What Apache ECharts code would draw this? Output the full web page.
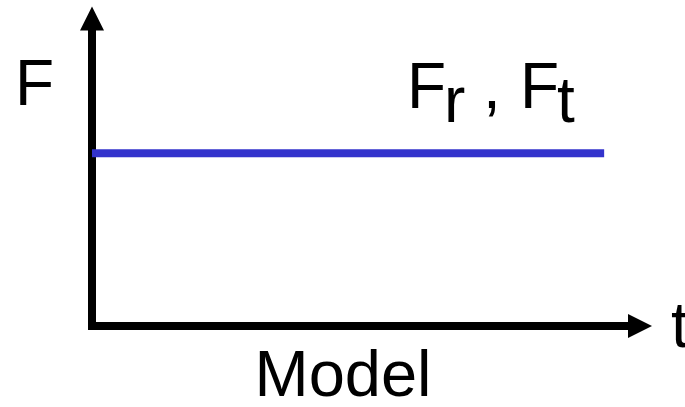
<!DOCTYPE html>
<html>
<head>
<meta charset="utf-8">
<script src="https://cdn.jsdelivr.net/npm/echarts@6/dist/echarts.min.js"></script>
<style>
html,body{margin:0;padding:0;background:#fff;}
#chart{width:685px;height:407px;}
</style>
</head>
<body>
<div id="chart"></div>
<script>
// Data
const tValues = [0, 10];
const fValues = [5, 5];
const xMax = 10.7;
const yMax = 8.9;
const yLabel = 'F';
const xLabel = 't';
const title = 'Model';
const seriesLabelParts = [
  {text: 'F', sub: false},
  {text: 'r', sub: true},
  {text: ',', sub: false},
  {text: 'F', sub: false},
  {text: 't', sub: true}
];

const FONT = '"Liberation Sans", Arial, Helvetica, sans-serif';
const chart = echarts.init(document.getElementById('chart'), null, {renderer: 'canvas'});

function txt(text, x, baseline, size) {
  return {
    type: 'text',
    x: x,
    y: baseline - 0.3465 * size,
    style: {
      text: text,
      fontSize: size,
      fontFamily: FONT,
      fill: '#000',
      align: 'left',
      verticalAlign: 'middle'
    },
    z: 100
  };
}

const labelX = [407, 444, 483, 520, 557];
const graphics = [
  txt(yLabel, 15, 110, 64),
  txt(xLabel, 671, 352, 64),
  {
    type: 'text',
    x: 343,
    y: 401 - 0.3465 * 65,
    style: {text: title, fontSize: 65, fontFamily: FONT, fill: '#000', align: 'center', verticalAlign: 'middle'},
    z: 100
  }
];
seriesLabelParts.forEach((p, i) => {
  graphics.push(txt(p.text, labelX[i], p.sub ? 127 : 113, 64));
});

const axisLineCommon = {
  show: true,
  onZero: false,
  symbol: ['none', 'triangle'],
  symbolSize: [24, 24]
};

chart.setOption({
  animation: false,
  backgroundColor: '#ffffff',
  grid: {left: 92, right: 45, top: 18.5, bottom: 81, containLabel: false},
  xAxis: {
    type: 'value', min: 0, max: xMax,
    axisLine: Object.assign({}, axisLineCommon, {lineStyle: {color: '#000', width: 8, cap: 'square'}}),
    axisTick: {show: false}, axisLabel: {show: false}, splitLine: {show: false}
  },
  yAxis: {
    type: 'value', min: 0, max: yMax,
    axisLine: Object.assign({}, axisLineCommon, {lineStyle: {color: '#000', width: 8, cap: 'butt'}}),
    axisTick: {show: false}, axisLabel: {show: false}, splitLine: {show: false}
  },
  series: [{
    type: 'line',
    data: tValues.map((t, i) => [t, fValues[i]]),
    symbol: 'none',
    lineStyle: {color: '#3333cc', width: 8, cap: 'butt'},
    z: 1
  }],
  graphic: graphics
});
</script>
</body>
</html>
